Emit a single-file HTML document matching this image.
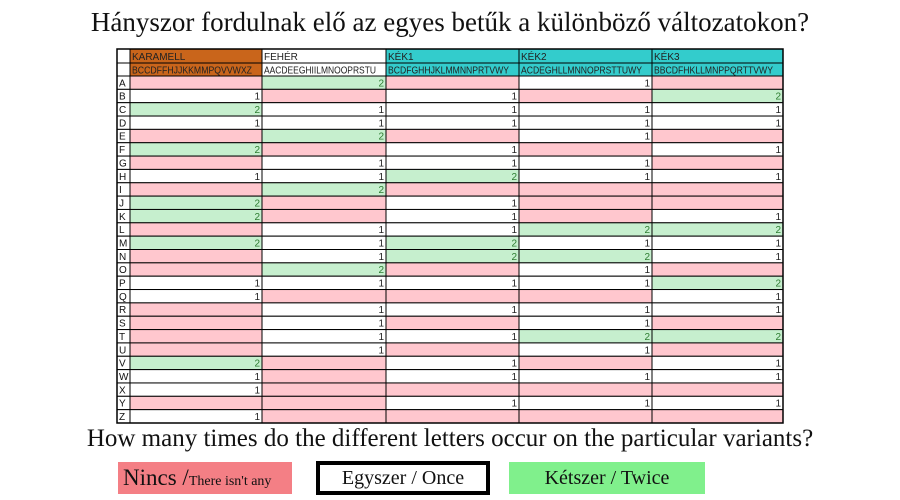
<!DOCTYPE html>
<html><head><meta charset="utf-8">
<style>
html,body{margin:0;padding:0;background:#fff;}
body{width:900px;height:500px;overflow:hidden;position:relative;font-family:"Liberation Sans",sans-serif;}
.title{position:absolute;left:0;width:900px;text-align:center;font-family:"Liberation Serif",serif;color:#111;white-space:nowrap;}
svg text{font-family:"Liberation Sans",sans-serif;}
</style></head>
<body>
<div class="title" style="top:7px;font-size:27px;">Hányszor fordulnak elő az egyes betűk a különböző változatokon?</div>
<svg id="tbl" width="900" height="500" style="position:absolute;left:0;top:0"></svg>
<div class="title" style="top:425px;font-size:25px;">How many times do the different letters occur on the particular variants?</div>
<div style="position:absolute;left:118px;top:462px;width:174px;height:32px;background:#f47f85;font-family:'Liberation Serif',serif;color:#111;line-height:32px;white-space:nowrap;"><span style="font-size:23px;margin-left:5px;">Nincs /</span><span style="font-size:14px;">There isn't any</span></div>
<div style="position:absolute;left:316px;top:461px;width:166px;height:26px;border:4px solid #000;background:#fff;font-family:'Liberation Serif',serif;font-size:20px;line-height:26px;text-align:center;color:#111;">Egyszer / Once</div>
<div style="position:absolute;left:509px;top:462px;width:196px;height:32px;background:#80f08c;font-family:'Liberation Serif',serif;font-size:20px;line-height:32px;text-align:center;color:#111;">Kétszer / Twice</div>
<script>
const letters = "ABCDEFGHIJKLMNOPQRSTUVWXYZ".split("");
const variants = ["KARAMELL","FEHÉR","KÉK1","KÉK2","KÉK3"];
const variantLetters = ["BCCDFFHJJKKMMPQVVWXZ","AACDEEGHIILMNOOPRSTU","BCDFGHHJKLMMNNPRTVWY","ACDEGHLLMNNOPRSTTUWY","BBCDFHKLLMNPPQRTTVWY"];
const karamell = [0,1,2,1,0,2,0,1,0,2,2,0,2,0,0,1,1,0,0,0,0,2,1,1,0,1];
const feher    = [2,0,1,1,2,0,1,1,2,0,0,1,1,1,2,1,0,1,1,1,1,0,0,0,0,0];
const kek1     = [0,1,1,1,0,1,1,2,0,1,1,1,2,2,0,1,0,1,0,1,0,1,1,0,1,0];
const kek2     = [1,0,1,1,1,0,1,1,0,0,0,2,1,2,1,1,0,1,1,2,1,0,1,0,1,0];
const kek3     = [0,2,1,1,0,1,0,1,0,0,1,2,1,1,0,2,1,1,0,2,0,1,1,0,1,0];
const series = [karamell,feher,kek1,kek2,kek3];
const headerColors = ["#c9651b","#ffffff","#33cccc","#33cccc","#33cccc"];

const svg = document.getElementById('tbl');
const NS = "http://www.w3.org/2000/svg";
const colX = [130,262,386,519,652,783];
const labelX = 117;
const top0 = 49, h1 = 14, h2 = 13, rowTop = 76, rowH = (423-76)/26;
function rowY(i){return rowTop + i*rowH;}
function mk(tag, attrs){const e=document.createElementNS(NS,tag);for(const k in attrs)e.setAttribute(k,attrs[k]);svg.appendChild(e);return e;}
const fills = ["#ffc7ce","#ffffff","#c6efce"];

let e = mk('rect',{x:labelX,y:top0,width:colX[0]-labelX,height:h1,fill:"#fff",stroke:"#000","stroke-width":1});


variants.forEach((v,c)=>{
  let r = mk('rect',{x:colX[c],y:top0,width:colX[c+1]-colX[c],height:h1+h2,fill:headerColors[c],stroke:"#000","stroke-width":1});
  
  
  mk('line',{x1:colX[c],x2:colX[c+1],y1:top0+h1,y2:top0+h1,stroke:"#000","stroke-width":1});
  let t = mk('text',{x:colX[c]+2,y:top0+11,"font-size":10,fill:"#222"});
  t.textContent = v;
  
  
  let t2 = mk('text',{x:colX[c]+2,y:top0+h1+10.5,"font-size":10,fill:"#222",textLength:colX[c+1]-colX[c]-12,lengthAdjust:"spacingAndGlyphs"});
  t2.textContent = variantLetters[c];
  
  
});
letters.forEach((L,i)=>{
  const y = rowY(i);
  let lr = mk('rect',{x:labelX,y:y,width:colX[0]-labelX,height:rowH,fill:"#fff",stroke:"#000","stroke-width":1});
  
  
  let lt = mk('text',{x:labelX+2,y:y+rowH-3,"font-size":10,fill:"#111"});
  lt.textContent = L;
  
  
  series.forEach((s,c)=>{
    const v = s[i];
    let cr = mk('rect',{x:colX[c],y:y,width:colX[c+1]-colX[c],height:rowH,fill:fills[v],stroke:"#000","stroke-width":1});
    
    
    if(v>0){
      let vt = mk('text',{x:colX[c+1]-2,y:y+rowH-3,"font-size":10,"text-anchor":"end",fill:v==2?"#2e7d32":"#222"});
      vt.textContent = v;
      
      
    }
  });
});
mk('rect',{x:labelX,y:top0,width:colX[5]-labelX,height:rowY(26)-top0,fill:"none",stroke:"#000","stroke-width":1.5});
</script>
</body></html>
